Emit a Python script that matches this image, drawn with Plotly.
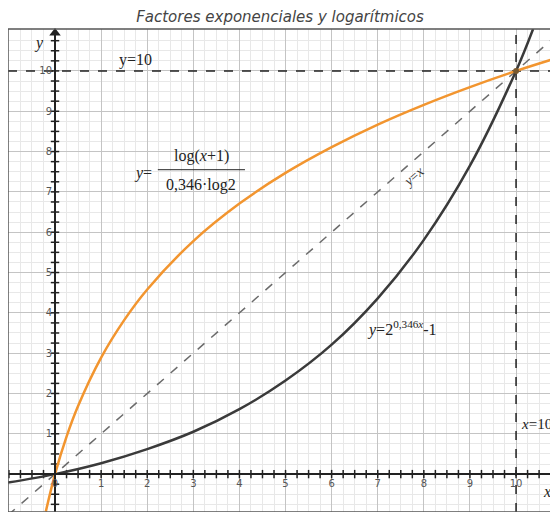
import plotly.graph_objects as go

# Values
log_x = [-0.2, 0, 0.25, 0.5, 1, 1.5, 2, 3, 4, 5, 6, 7, 8, 9, 10, 10.91]
log_y = [-0.93, 0, 0.93, 1.69, 2.89, 3.82, 4.58, 5.78, 6.71, 7.47, 8.11, 8.67, 9.16, 9.60, 10.0, 10.33]

exp_x = [-1.02, 0, 1, 2, 3, 4, 5, 6, 7, 8, 9, 10, 10.37]
exp_y = [-0.21, 0, 0.27, 0.62, 1.05, 1.61, 2.32, 3.21, 4.36, 5.81, 7.65, 10.0, 11.04]

diag_x = [-1.02, 10.91]
diag_y = [-1.02, 10.91]

x_ticks = [0, 1, 2, 3, 4, 5, 6, 7, 8, 9, 10]
x_tick_labels = ["0", "1", "2", "3", "4", "5", "6", "7", "8", "9", "10"]
y_ticks = [1, 2, 3, 4, 5, 6, 7, 8, 9, 10]
y_tick_labels = ["1", "2", "3", "4", "5", "6", "7", "8", "9", "10"]
minor_ticks = [i * 0.25 for i in range(-4, 44)]

XR = [-1.02, 10.91]
YR = [-0.94, 11.04]
x0frac = (0 - XR[0]) / (XR[1] - XR[0])
y0frac = (0 - YR[0]) / (YR[1] - YR[0])

serif = "Liberation Serif"

fig = go.Figure()

# y = x dashed
fig.add_trace(go.Scatter(x=diag_x, y=diag_y, mode="lines",
                         line=dict(color="#6b6b6b", width=1.5, dash="dash"),
                         hoverinfo="skip", showlegend=False))
# y=10 and x=10 reference lines
fig.add_trace(go.Scatter(x=[XR[0], XR[1]], y=[10, 10], mode="lines",
                         line=dict(color="#222", width=1.5, dash="dash"),
                         showlegend=False, hoverinfo="skip"))
fig.add_trace(go.Scatter(x=[10, 10], y=[YR[0], YR[1]], mode="lines",
                         line=dict(color="#222", width=1.5, dash="dash"),
                         showlegend=False, hoverinfo="skip"))
# axis minor tick marks
xt = [v for v in minor_ticks if XR[0] < v < XR[1] - 0.2]
yt = [v for v in minor_ticks if YR[0] < v < YR[1] - 0.2]
fig.add_trace(go.Scatter(x=xt, y=[0] * len(xt), mode="markers",
                         marker=dict(symbol="line-ns-open", size=6, color="#222", line=dict(width=1.5)),
                         showlegend=False, hoverinfo="skip"))
fig.add_trace(go.Scatter(y=yt, x=[0] * len(yt), mode="markers",
                         marker=dict(symbol="line-ew-open", size=6, color="#222", line=dict(width=1.5)),
                         showlegend=False, hoverinfo="skip"))
# axis arrow heads
fig.add_trace(go.Scatter(x=[XR[1] - 0.08], y=[0], mode="markers",
                         marker=dict(symbol="triangle-right", size=10, color="#222"),
                         showlegend=False, hoverinfo="skip", cliponaxis=False))
fig.add_trace(go.Scatter(x=[0], y=[YR[1] - 0.1], mode="markers",
                         marker=dict(symbol="triangle-up", size=10, color="#222"),
                         showlegend=False, hoverinfo="skip", cliponaxis=False))
# curves
fig.add_trace(go.Scatter(x=exp_x, y=exp_y, mode="lines", line_shape="spline",
                         line=dict(color="#3a3a3a", width=2.5),
                         showlegend=False, hoverinfo="skip"))
fig.add_trace(go.Scatter(x=log_x, y=log_y, mode="lines", line_shape="spline",
                         line=dict(color="#f2952f", width=2.5),
                         showlegend=False, hoverinfo="skip"))
fig.add_trace(go.Scatter(x=[10], y=[10], mode="markers",
                         marker=dict(color="#7a5a30", size=6),
                         showlegend=False, hoverinfo="skip"))

fig.update_layout(
    width=558, height=512,
    margin=dict(l=0, r=8, t=21, b=8, pad=0, autoexpand=False),
    paper_bgcolor="white", plot_bgcolor="white",
    title=dict(text="<i>Factores exponenciales y logarítmicos</i>",
               x=0.4875, xanchor="center", y=0.983, yanchor="middle",
               font=dict(family="DejaVu Sans", size=15, color="#444")),
    xaxis=dict(range=XR, showgrid=True, gridcolor="#c4c4c4", gridwidth=1,
               tickvals=x_ticks, ticktext=x_tick_labels, automargin=False,
               minor=dict(tickvals=minor_ticks, showgrid=True, gridcolor="#e8e8e8", gridwidth=1),
               zeroline=False, showline=True, linecolor="#222", linewidth=2,
               anchor="free", position=y0frac, ticks="",
               tickfont=dict(family="DejaVu Sans", size=10, color="#555")),
    yaxis=dict(range=YR, showgrid=True, gridcolor="#c4c4c4", gridwidth=1,
               tickvals=y_ticks, ticktext=y_tick_labels, automargin=False,
               minor=dict(tickvals=minor_ticks, showgrid=True, gridcolor="#e8e8e8", gridwidth=1),
               zeroline=False, showline=True, linecolor="#222", linewidth=2,
               anchor="free", position=x0frac, ticks="",
               tickfont=dict(family="DejaVu Sans", size=10, color="#555")),
)

# frame
fig.add_shape(type="rect", xref="paper", yref="paper", x0=0, x1=1, y0=0, y1=1,
              line=dict(color="#555", width=1.5), layer="above")

ann_font = dict(family=serif, size=16, color="#222")
fig.add_annotation(x=-0.35, y=10.7, text="<i>y</i>", showarrow=False, font=ann_font)
fig.add_annotation(x=10.68, y=-0.42, text="<i>x</i>", showarrow=False, font=ann_font)
fig.add_annotation(x=1.75, y=10.28, text="y=10", showarrow=False, font=ann_font)
fig.add_annotation(x=10.06, y=1.25, text="<i>x</i>=10", showarrow=False, xanchor="left",
                   font=dict(family=serif, size=15, color="#222"))
fig.add_annotation(x=7.78, y=7.38, text="<i>y</i>=<i>x</i>", showarrow=False, textangle=-41,
                   font=dict(family=serif, size=14, color="#333"))
fig.add_annotation(x=6.72, y=3.6, text="<i>y</i>=2<sup>0,346<i>x</i></sup>-1", showarrow=False,
                   xanchor="left", font=ann_font)
# fraction label
fig.add_annotation(x=1.68, y=7.48, text="<i>y</i>=", showarrow=False, xanchor="left", font=ann_font)
fig.add_annotation(x=3.17, y=7.88, text="log(<i>x</i>+1)", showarrow=False, font=ann_font)
fig.add_annotation(x=3.17, y=7.16, text="0,346·log2", showarrow=False, font=ann_font)
fig.add_shape(type="line", x0=2.23, x1=4.12, y0=7.55, y1=7.55, line=dict(color="#222", width=1))

fig.write_html("out.html")
